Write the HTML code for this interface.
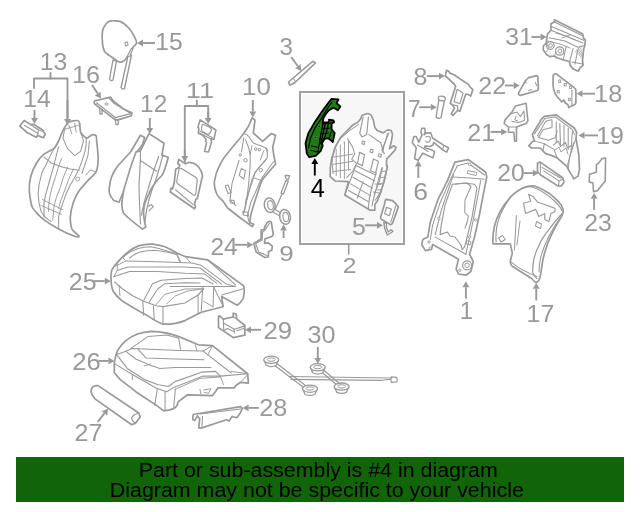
<!DOCTYPE html>
<html><head><meta charset="utf-8"><style>
html,body{margin:0;padding:0;background:#fff;width:640px;height:512px;overflow:hidden}
svg{display:block;font-family:"Liberation Sans",sans-serif;will-change:transform}
</style></head><body>
<svg width="640" height="512" viewBox="0 0 640 512">
<rect x="0" y="0" width="640" height="512" fill="#fff"/>
<rect x="299" y="91" width="106" height="154" fill="#a0a0a0"/>
<rect x="301" y="93" width="102" height="150" fill="#fff"/>
<rect x="302" y="94" width="100" height="148" fill="#f7f7f7"/>
<path d="M348.7,245 L348.7,254" fill="none" stroke="#999" stroke-width="1.5750000000000002" stroke-linejoin="round" stroke-linecap="round"/>
<path d="M113,60 L109.5,79 Q111,81.5 113,80 L116.5,61 Z" fill="#fff" stroke="#999" stroke-width="1.3650000000000002" stroke-linejoin="round" stroke-linecap="round" />
<path d="M128,56 L121,87.5 Q122.5,90 124.5,88.5 L131.5,55 Z" fill="#fff" stroke="#999" stroke-width="1.3650000000000002" stroke-linejoin="round" stroke-linecap="round" />
<path d="M110.30,20.90 C112.04,20.57 118.32,20.74 120.50,21.60 C122.68,22.46 127.37,26.52 129.00,28.30 C130.63,30.09 133.61,35.17 134.50,36.90 C135.39,38.63 136.68,42.00 136.60,43.10 C136.52,44.20 134.41,45.47 133.80,46.30 C133.19,47.13 132.14,49.02 131.40,50.20 C130.66,51.38 128.41,55.14 127.50,56.40 C126.59,57.66 124.60,60.36 123.60,61.00 C122.60,61.64 120.27,62.34 118.90,61.90 C117.54,61.46 113.55,58.39 111.90,57.20 C110.26,56.01 105.90,53.35 104.80,51.70 C103.70,50.05 102.77,45.52 102.50,43.10 C102.23,40.69 102.14,33.18 102.50,31.00 C102.86,28.82 104.69,25.58 105.60,24.40 C106.51,23.22 108.56,21.23 110.30,20.90Z" fill="#fff" stroke="#999" stroke-width="1.6949999999999998" stroke-linejoin="round" stroke-linecap="round" />
<path d="M131,49 L133.5,47 L130,56 L127,57Z" fill="#fff" stroke="#999" stroke-width="1.1550000000000002" stroke-linejoin="round" stroke-linecap="round" />
<path d="M125,42.5 L127.5,42 L128,45 L125.5,46Z" fill="#fff" stroke="#999" stroke-width="1.05" stroke-linejoin="round" stroke-linecap="round" />
<text transform="translate(155.20,49.55) scale(1.029,1.003)" font-size="24" fill="#999">15</text>
<path d="M155,43 L143.0,43.0" stroke="#999" stroke-width="1.9" fill="none"/>
<path d="M137,43 L143.0,39.6 L143.0,46.4Z" fill="#999"/>
<path d="M64.50,127.80 C65.24,126.63 67.58,122.73 68.90,122.00 C70.22,121.27 76.62,120.36 77.70,120.50 C78.78,120.64 79.41,122.23 79.70,123.40 C79.99,124.57 79.93,130.73 80.60,132.20 C81.27,133.67 85.23,137.86 86.40,138.10 C87.57,138.34 91.33,134.83 92.30,134.60 C93.27,134.37 95.66,135.16 96.10,135.80 C96.54,136.44 96.49,138.72 96.70,141.00 C96.91,143.28 98.26,155.52 98.20,158.60 C98.14,161.68 97.13,169.60 96.10,171.80 C95.07,174.00 89.60,178.70 87.90,180.60 C86.20,182.50 80.56,188.60 79.10,190.80 C77.64,193.00 74.18,199.96 73.30,202.60 C72.42,205.24 70.45,214.57 70.30,217.20 C70.15,219.83 70.92,226.99 71.80,228.90 C72.68,230.81 78.81,235.56 79.10,236.30 C79.39,237.04 76.75,237.04 74.70,236.30 C72.65,235.56 61.82,230.66 58.60,228.90 C55.38,227.14 45.14,220.89 42.50,218.70 C39.86,216.51 33.52,209.79 32.20,207.00 C30.88,204.21 29.44,193.88 29.30,190.80 C29.16,187.72 30.07,178.98 30.80,176.20 C31.53,173.42 35.28,165.20 36.60,163.00 C37.92,160.80 42.24,155.66 44.00,154.20 C45.76,152.74 52.74,149.72 54.20,148.40 C55.66,147.08 57.87,142.47 58.60,141.00 C59.33,139.53 60.91,135.02 61.50,133.70 C62.09,132.38 63.76,128.97 64.50,127.80Z" fill="#fff" stroke="#999" stroke-width="1.6949999999999998" stroke-linejoin="round" stroke-linecap="round" />
<path d="M44,157.1 Q49,161 51.3,163 Q60,167 70.3,168.9 L79.1,170.3" fill="none" stroke="#999" stroke-width="1.05" stroke-linejoin="round" stroke-linecap="round" />
<path d="M64.5,129.3 L63,138.1 L67.4,148.4 L74.7,155.7 L80.6,151.3 L83.5,141 L80.6,132.2" fill="none" stroke="#999" stroke-width="1.05" stroke-linejoin="round" stroke-linecap="round"/>
<path d="M68.9,124.9 L71.8,133.7" fill="none" stroke="#999" stroke-width="0.9450000000000001" stroke-linejoin="round" stroke-linecap="round"/>
<path d="M74.7,123.4 L76.2,132.2" fill="none" stroke="#999" stroke-width="0.9450000000000001" stroke-linejoin="round" stroke-linecap="round"/>
<path d="M64.5,129.3 L79.7,125" fill="none" stroke="#999" stroke-width="0.9450000000000001" stroke-linejoin="round" stroke-linecap="round"/>
<path d="M86.4,138.1 Q86.5,145 85,151.3 Q82.5,160 79.1,168.9 Q75,177 70.3,185 Q66,193 63,202.6 Q60,210 58.6,217.2 L58.6,228.9" fill="none" stroke="#999" stroke-width="1.05" stroke-linejoin="round" stroke-linecap="round" />
<path d="M89.4,141 L87.9,155.7 L82,173.3" fill="none" stroke="#999" stroke-width="1.05" stroke-linejoin="round" stroke-linecap="round"/>
<path d="M58.6,146.9 Q56,156 54.2,164.5 Q51,175 48.4,185 Q45.5,194 44,202.6 L44,217.2" fill="none" stroke="#999" stroke-width="1.05" stroke-linejoin="round" stroke-linecap="round" />
<path d="M61.5,158.6 Q58,167 55.7,176.2 Q52,186 49.8,196.7 Q48.5,204 48.4,211.4" fill="none" stroke="#999" stroke-width="0.9450000000000001" stroke-linejoin="round" stroke-linecap="round" />
<path d="M67.4,167.4 Q63,177 60.1,187.9 Q56,197 54.2,205.5 L52.7,220.1" fill="none" stroke="#999" stroke-width="0.9450000000000001" stroke-linejoin="round" stroke-linecap="round" />
<path d="M73.3,168.9 Q68,180 64.5,190.8 Q60.5,200 58.6,208.4" fill="none" stroke="#999" stroke-width="0.9450000000000001" stroke-linejoin="round" stroke-linecap="round" />
<path d="M42.5,199.6 L63,209.9" fill="none" stroke="#999" stroke-width="0.9450000000000001" stroke-linejoin="round" stroke-linecap="round"/>
<path d="M41,205.5 L61.5,214.3" fill="none" stroke="#999" stroke-width="0.9450000000000001" stroke-linejoin="round" stroke-linecap="round"/>
<path d="M58.6,141 Q50,155 46,165 Q42,171 41,176.2 Q38.5,185 38.1,193.8 Q38.5,203 41,211.4 Q45,218 51.3,221.6" fill="none" stroke="#999" stroke-width="1.05" stroke-linejoin="round" stroke-linecap="round" />
<ellipse cx="77.7" cy="179.1" rx="2" ry="2" fill="#fff" stroke="#999" stroke-width="0.9" transform="rotate(0 77.7 179.1)"/>
<path d="M96.1,171.8 L90,170 L86,175" fill="none" stroke="#999" stroke-width="0.9450000000000001" stroke-linejoin="round" stroke-linecap="round"/>
<text transform="translate(39.70,70.36) scale(1.031,0.976)" font-size="24" fill="#999">13</text>
<path d="M50.5,73 L50.5,78.5" fill="none" stroke="#999" stroke-width="1.8900000000000001" stroke-linejoin="round" stroke-linecap="round"/>
<path d="M34,88 L34,78.5 L67.5,78.5 L67.5,118" fill="none" stroke="#999" stroke-width="1.8900000000000001" stroke-linejoin="round" stroke-linecap="round"/>
<path d="M67.5,100 L67.5,119.0" stroke="#999" stroke-width="1.9" fill="none"/>
<path d="M67.5,125 L64.1,119.0 L70.9,119.0Z" fill="#999"/>
<path d="M24.2,120.5 L30.65,124.6 L33.6,124.3 L43,130.2 L43.55,131.6 L45.3,134.3 L43.25,137.8 L38,135.4 L36.2,137.2 L27.1,132.5 L19.8,126.1Z" fill="#fff" stroke="#999" stroke-width="1.6949999999999998" stroke-linejoin="round" stroke-linecap="round" />
<path d="M24.5,125.3 L38,133.5" fill="none" stroke="#999" stroke-width="1.05" stroke-linejoin="round" stroke-linecap="round"/>
<path d="M30.65,124.6 L38.5,130 L37.5,135" fill="none" stroke="#999" stroke-width="1.05" stroke-linejoin="round" stroke-linecap="round"/>
<path d="M33.6,127 L43,132" fill="none" stroke="#999" stroke-width="0.9450000000000001" stroke-linejoin="round" stroke-linecap="round"/>
<text transform="translate(23.20,106.90) scale(1.031,0.982)" font-size="24" fill="#999">14</text>
<path d="M34.5,110 L34.5,118.0" stroke="#999" stroke-width="1.9" fill="none"/>
<path d="M34.5,124 L31.1,118.0 L37.9,118.0Z" fill="#999"/>
<path d="M94.3,101 L110.4,97.1 L113.3,101 L124.1,109.3 L131.9,112.7 L131.4,115.7 L117.3,120.1 L114.3,119.1 L97.7,106.4 L94.3,103.5Z" fill="#fff" stroke="#999" stroke-width="1.6949999999999998" stroke-linejoin="round" stroke-linecap="round" />
<path d="M96.7,103 L115.3,117.6 L130.9,113.7" fill="none" stroke="#999" stroke-width="1.26" stroke-linejoin="round" stroke-linecap="round"/>
<path d="M109,98 L114.3,103.5 L130,113" fill="none" stroke="#999" stroke-width="1.26" stroke-linejoin="round" stroke-linecap="round"/>
<path d="M99.7,108.5 L100,114 L102,114 L102,110" fill="none" stroke="#999" stroke-width="1.26" stroke-linejoin="round" stroke-linecap="round"/>
<path d="M115.3,120 L116,124.5 L118.2,124.5 L118.5,120" fill="none" stroke="#999" stroke-width="1.26" stroke-linejoin="round" stroke-linecap="round"/>
<ellipse cx="106.5" cy="104" rx="1.6" ry="1.1" fill="#fff" stroke="#999" stroke-width="1" transform="rotate(0 106.5 104)"/>
<text transform="translate(71.91,83.25) scale(1.052,1.015)" font-size="24" fill="#999">16</text>
<path d="M92,85 L97.68879859490933,93.59640676564075" stroke="#999" stroke-width="1.9" fill="none"/>
<path d="M101,98.6 L94.8534290954391,95.47275422852546 L100.52416809437956,91.72005930275604Z" fill="#999"/>
<path d="M140.4,135.3 L144.7,137.5 L142.6,144.3 L137.2,151.8 Q130,175 126.5,185 Q122,195 119,202.3 L113.6,200.2 Q108,194 109.3,188 Q110,176 117.9,165.8 Q126,157 130.8,151.8 Z" fill="#fff" stroke="#999" stroke-width="1.6949999999999998" stroke-linejoin="round" stroke-linecap="round" />
<path d="M149,133.6 L164,143.3 L161.9,155.1 L168.3,157.2 Q165,170 161.9,175.5 Q157,180 154.4,184 Q150,190 148,195.9 Q144,204 143.7,210 Q143,216 145.8,227 L142.6,229.1 Q130,220 123.3,213 Q121,205 122.2,200.2 Q123,190 126.5,180.8 Q131,165 136.1,151.8 L140.4,150.8 L143.7,144.3 Z" fill="#fff" stroke="#999" stroke-width="1.6949999999999998" stroke-linejoin="round" stroke-linecap="round" />
<path d="M140.4,150.8 L140.4,160.4 L156.5,171.2" fill="none" stroke="#999" stroke-width="1.1550000000000002" stroke-linejoin="round" stroke-linecap="round"/>
<path d="M140.4,160.4 L139,185 L139.4,200.2 L140.4,223.8" fill="none" stroke="#999" stroke-width="1.1550000000000002" stroke-linejoin="round" stroke-linecap="round"/>
<path d="M158.7,156.5 Q152,175 148,189.4 Q143,205 141.5,215.2" fill="none" stroke="#999" stroke-width="1.1550000000000002" stroke-linejoin="round" stroke-linecap="round" />
<path d="M163,155 Q157,178 152,190 Q146,208 145,222" fill="none" stroke="#999" stroke-width="1.1550000000000002" stroke-linejoin="round" stroke-linecap="round" />
<path d="M148,206.6 L151.2,204.5 L153.3,206.6 L149,210.9" fill="none" stroke="#999" stroke-width="1.1550000000000002" stroke-linejoin="round" stroke-linecap="round"/>
<text transform="translate(140.12,111.90) scale(1.015,0.991)" font-size="24" fill="#999">12</text>
<path d="M149.8,118 L149.8,128.0" stroke="#999" stroke-width="1.9" fill="none"/>
<path d="M149.8,134 L146.4,128.0 L153.20000000000002,128.0Z" fill="#999"/>
<path d="M200.2,119.8 L215.9,130 L213.9,139.3 L211,138.8 L211.5,142.2 L208.5,152 L204.6,151.5 L206.6,142.2 L205.6,141.2 L206.1,139.3 L202.7,135.4 L198.3,133.4 L198.8,128 L197.8,127.6Z" fill="#fff" stroke="#999" stroke-width="1.5819999999999999" stroke-linejoin="round" stroke-linecap="round" />
<path d="M203.5,124.5 L210,127.5 Q212,129 211,131 L209.5,133.5 Q208.5,134.5 207,134 L202.5,131.5 Q201,130.5 201.5,128.5 L202,125.5 Q202.5,124 203.5,124.5 Z" fill="#fff" stroke="#999" stroke-width="1.1550000000000002" stroke-linejoin="round" stroke-linecap="round" />
<path d="M199.8,131 L212.4,137.8" fill="none" stroke="#999" stroke-width="1.05" stroke-linejoin="round" stroke-linecap="round"/>
<path d="M199.5,133 L211,139" fill="none" stroke="#999" stroke-width="1.05" stroke-linejoin="round" stroke-linecap="round"/>
<path d="M178.7,159.4 L185.5,163.8 L189.4,162.3 Q195,163 197.2,165.7 Q200.5,169 201.6,172.1 L202.6,176 L202.1,177.5 L197.3,198.6 L196,199 L194.5,203.9 L195.6,206.7 L194.5,208.8 L170.3,192 L171,188.1 L172.5,189 L174.3,182.3 L175.7,169.2 L179.2,167.2 L179.6,164.8 L177.7,163.8 Z" fill="#fff" stroke="#999" stroke-width="1.6949999999999998" stroke-linejoin="round" stroke-linecap="round" />
<path d="M181.5,168.5 L196,177.5 Q197.5,178.8 197.2,180.5 L195.8,193.5 Q195.3,195.8 193.5,195 L178,184 Q176.5,183 176.8,181 L178.8,170 Q179.5,167.5 181.5,168.5 Z" fill="none" stroke="#999" stroke-width="1.1550000000000002" stroke-linejoin="round" stroke-linecap="round" />
<path d="M175.5,189.8 L193.1,204.6" fill="none" stroke="#999" stroke-width="1.1550000000000002" stroke-linejoin="round" stroke-linecap="round"/>
<text transform="translate(185.81,97.90) scale(1.136,0.948)" font-size="24" fill="#999">11</text>
<path d="M196.8,100.5 L196.8,106" fill="none" stroke="#999" stroke-width="1.8900000000000001" stroke-linejoin="round" stroke-linecap="round"/>
<path d="M184.8,162 L184.8,106 L208.2,106 L208.2,118" fill="none" stroke="#999" stroke-width="1.8900000000000001" stroke-linejoin="round" stroke-linecap="round"/>
<path d="M184.8,150 L184.8,156.0" stroke="#999" stroke-width="1.9" fill="none"/>
<path d="M184.8,162 L181.4,156.0 L188.20000000000002,156.0Z" fill="#999"/>
<path d="M208.2,112 L208.2,118.0" stroke="#999" stroke-width="1.9" fill="none"/>
<path d="M208.2,124 L204.79999999999998,118.0 L211.6,118.0Z" fill="#999"/>
<path d="M252.1,117.9 L255,120.2 L253.3,133.1 L262.7,141.3 L271.3,133.5 L275.6,135.4 L272.7,147.1 L273.7,155 L275.6,164 L262.3,179.7 Q260,185 258.4,190.6 L253.75,204.7 L250.6,215.6 L249.8,222.7 L253.75,224.2 L252.2,226.6 Q240,218 227.6,208 Q225,204 222.9,201 Q217,196 215.9,191.6 Q213.5,185 214.7,179.9 Q216,172 219.4,165.9 Q223,158 228.7,151.8 Q235,144 240.4,137.8 Q245,132 248.6,126 Z" fill="#fff" stroke="#999" stroke-width="1.6949999999999998" stroke-linejoin="round" stroke-linecap="round" />
<path d="M244.35,133.8 Q247,134.5 249,136.7 Q251,140 253.1,142.6 Q256,144.5 260.2,145.5 L266,147.9 L267.8,150.8" fill="none" stroke="#999" stroke-width="1.05" stroke-linejoin="round" stroke-linecap="round" />
<path d="M243.8,137.9 L241.4,152" fill="none" stroke="#999" stroke-width="1.05" stroke-linejoin="round" stroke-linecap="round"/>
<path d="M239.1,160.2 L232,183.6 L230,200 L235.8,205.7" fill="none" stroke="#999" stroke-width="1.05" stroke-linejoin="round" stroke-linecap="round"/>
<path d="M245.5,139.7 Q249,147 250.2,154.3 L250.2,163.7 Q249.5,175 248.5,185 L246,205 L243,214" fill="none" stroke="#999" stroke-width="1.05" stroke-linejoin="round" stroke-linecap="round" />
<path d="M252,145.5 L250.2,154.3" fill="none" stroke="#999" stroke-width="0.9450000000000001" stroke-linejoin="round" stroke-linecap="round"/>
<path d="M266,148.5 Q268,153 267.2,157.8 Q264,162 260.2,166 Q256.5,170 254.3,174.25 Q252,179 250.8,183.6 L247,200" fill="none" stroke="#999" stroke-width="1.05" stroke-linejoin="round" stroke-linecap="round" />
<path d="M263.7,150.8 L260.2,160.2" fill="none" stroke="#999" stroke-width="0.9450000000000001" stroke-linejoin="round" stroke-linecap="round"/>
<path d="M273.3,161.7 L260.8,179.7 L256.9,189 L250.6,203 L247.5,215.6 L249,222" fill="none" stroke="#999" stroke-width="1.05" stroke-linejoin="round" stroke-linecap="round"/>
<path d="M266.25,159.4 L255.3,171.9 L251.4,184.4 L245.9,200 L244.5,212" fill="none" stroke="#999" stroke-width="1.05" stroke-linejoin="round" stroke-linecap="round"/>
<path d="M253.7,177.8 L260.2,180.1" fill="none" stroke="#999" stroke-width="0.9450000000000001" stroke-linejoin="round" stroke-linecap="round"/>
<path d="M239.1,175.4 L241.4,168.4 L245.5,170.7 L243.8,179Z" fill="none" stroke="#999" stroke-width="1.05" stroke-linejoin="round" stroke-linecap="round" />
<path d="M225.2,185.8 L228,185 L231.1,192.8 L228,193.5Z" fill="none" stroke="#999" stroke-width="1.05" stroke-linejoin="round" stroke-linecap="round" />
<path d="M229.9,200 L234,200.5 L234.5,203.5 L230.5,203Z" fill="none" stroke="#999" stroke-width="1.05" stroke-linejoin="round" stroke-linecap="round" />
<path d="M242.8,211.5 L248,212.5 L248.5,216 L243.5,215Z" fill="none" stroke="#999" stroke-width="1.05" stroke-linejoin="round" stroke-linecap="round" />
<ellipse cx="240.2" cy="154.9" rx="1.2" ry="1.2" fill="#fff" stroke="#999" stroke-width="1" transform="rotate(0 240.2 154.9)"/>
<ellipse cx="245.5" cy="160.2" rx="1.7" ry="1.7" fill="#fff" stroke="#999" stroke-width="1" transform="rotate(0 245.5 160.2)"/>
<ellipse cx="255.7" cy="149" rx="1.3" ry="1.3" fill="#fff" stroke="#999" stroke-width="1" transform="rotate(0 255.7 149)"/>
<ellipse cx="259.4" cy="149.6" rx="1.3" ry="1.3" fill="#fff" stroke="#999" stroke-width="1" transform="rotate(0 259.4 149.6)"/>
<ellipse cx="260.8" cy="170.15" rx="1.7" ry="1.7" fill="#fff" stroke="#999" stroke-width="1" transform="rotate(0 260.8 170.15)"/>
<text transform="translate(242.12,94.51) scale(1.075,0.968)" font-size="24" fill="#999">10</text>
<path d="M252.8,100 L252.8,111.5" stroke="#999" stroke-width="1.9" fill="none"/>
<path d="M252.8,117.5 L249.4,111.5 L256.2,111.5Z" fill="#999"/>
<path d="M285.8,180.6 L288.2,181.2 L283.5,194 L281,193.2 Z" fill="#fff" stroke="#999" stroke-width="1.26" stroke-linejoin="round" stroke-linecap="round" />
<path d="M282.2,193.5 L275.6,208.7" fill="none" stroke="#999" stroke-width="1.26" stroke-linejoin="round" stroke-linecap="round"/>
<path d="M285.2,175.3 L289.7,175.6 L288.3,179.4 L285.9,178.8Z" fill="#fff" stroke="#999" stroke-width="1.26" stroke-linejoin="round" stroke-linecap="round" />
<ellipse cx="269.7" cy="205.2" rx="5.4" ry="7.3" fill="#fff" stroke="#999" stroke-width="1.5" transform="rotate(-10 269.7 205.2)"/>
<ellipse cx="270.5" cy="205.2" rx="2.8" ry="4.6" fill="#fff" stroke="#999" stroke-width="1.1" transform="rotate(-10 270.5 205.2)"/>
<path d="M274,209 L281,213" fill="none" stroke="#999" stroke-width="1.1550000000000002" stroke-linejoin="round" stroke-linecap="round"/>
<path d="M273,212 L280,216" fill="none" stroke="#999" stroke-width="1.1550000000000002" stroke-linejoin="round" stroke-linecap="round"/>
<ellipse cx="285" cy="216.9" rx="5.3" ry="7.5" fill="#fff" stroke="#999" stroke-width="1.5" transform="rotate(-10 285 216.9)"/>
<ellipse cx="285.8" cy="216.9" rx="2.8" ry="4.6" fill="#fff" stroke="#999" stroke-width="1.1" transform="rotate(-10 285.8 216.9)"/>
<text transform="translate(279.35,260.97) scale(1.082,0.918)" font-size="24" fill="#999">9</text>
<path d="M283.6,238 L283.6,230.5" stroke="#999" stroke-width="1.9" fill="none"/>
<path d="M283.6,224.5 L287.0,230.5 L280.20000000000005,230.5Z" fill="#999"/>
<path d="M269.4,221.3 L271.3,222.3 L273.3,234.5 L271.8,236.5 L265,238.9 L264.5,243.3 L268.4,242.8 L272.3,246.2 L271.8,250.1 L268.4,252.1 L268.4,257 L264.5,257.4 L256.2,252.1 L253.8,243.3 L261.1,238.9 L261.1,230.1 L264,229.6 L265,226.2 L267.4,222.3Z" fill="#fff" stroke="#999" stroke-width="1.6949999999999998" stroke-linejoin="round" stroke-linecap="round" />
<path d="M269.4,223.5 L264.5,230.6 L262.6,232 L262.1,239.9 L255.7,243.8 L258.7,252.1 L267,255.5" fill="none" stroke="#999" stroke-width="1.1550000000000002" stroke-linejoin="round" stroke-linecap="round"/>
<text transform="translate(210.43,254.50) scale(1.018,0.973)" font-size="24" fill="#999">24</text>
<path d="M234.7,244.8 L247.2,244.8" stroke="#999" stroke-width="1.9" fill="none"/>
<path d="M253.2,244.8 L247.2,248.20000000000002 L247.2,241.4Z" fill="#999"/>
<path d="M312.7,61.3 L315.5,62.9 L294.75,82.8 L289.7,85.2 L288.5,82 Z" fill="#fff" stroke="#999" stroke-width="1.5819999999999999" stroke-linejoin="round" stroke-linecap="round" />
<path d="M293.5,78.5 L295.5,81.5" fill="none" stroke="#999" stroke-width="1.05" stroke-linejoin="round" stroke-linecap="round"/>
<text transform="translate(279.60,55.15) scale(1.004,0.988)" font-size="24" fill="#999">3</text>
<path d="M291.2,57 L297.88328128082765,66.23865353526176" stroke="#999" stroke-width="1.9" fill="none"/>
<path d="M301.4,71.1 L295.1285182841427,68.23146080945942 L300.6380442775126,64.2458462610641Z" fill="#999"/>
<path d="M331.6,98.8 L338.5,99.4 L336.6,103.2 L340.4,106.4 L337.9,110.2 L333.5,107.7 L329,110.2 L325.8,114 L323.3,118.5 L322.7,122.3 L328.4,122.3 L329.6,119.7 L333.5,120.4 L334.1,122.3 L331.6,123.6 L331.6,129.3 L334.7,133.1 L332.8,142 L328.4,138.1 L324.6,138.8 L322,143.2 L322.7,145.8 L320.8,150.8 L315.7,155.9 L309.3,157.2 L306.8,153.4 L305.5,143.2 L308.4,133.1 L315.2,121.4 L323,110 L329.2,101.8Z" fill="#1f7a14" stroke="#000" stroke-width="1.8" stroke-linejoin="round" stroke-linecap="round" />
<path d="M308.5,148 L310.5,138 L315,128 L321,119 L327,109 L332,102" fill="none" stroke="#000" stroke-width="1.1" stroke-linejoin="round" stroke-linecap="round"/>
<path d="M323.2,122.9 L320.5,136 L318,152" fill="none" stroke="#000" stroke-width="1.2" stroke-linejoin="round" stroke-linecap="round"/>
<path d="M325.5,122.5 L323,134 L320.6,144" fill="none" stroke="#000" stroke-width="1.2" stroke-linejoin="round" stroke-linecap="round"/>
<path d="M328.5,122.5 L326.5,132 L324,140" fill="none" stroke="#000" stroke-width="1.2" stroke-linejoin="round" stroke-linecap="round"/>
<path d="M322.5,124 L331,123" fill="none" stroke="#000" stroke-width="1.1" stroke-linejoin="round" stroke-linecap="round"/>
<path d="M321.5,129 L330,128" fill="none" stroke="#000" stroke-width="1.1" stroke-linejoin="round" stroke-linecap="round"/>
<path d="M320.5,134 L328.5,133" fill="none" stroke="#000" stroke-width="1.1" stroke-linejoin="round" stroke-linecap="round"/>
<path d="M319.5,139 L327,138.5" fill="none" stroke="#000" stroke-width="1.1" stroke-linejoin="round" stroke-linecap="round"/>
<path d="M311.4,146 L318.5,147.5" fill="none" stroke="#000" stroke-width="1.1" stroke-linejoin="round" stroke-linecap="round"/>
<path d="M310.9,150.2 L317.5,152" fill="none" stroke="#000" stroke-width="1.1" stroke-linejoin="round" stroke-linecap="round"/>
<path d="M331.1,131.7 L329,139.5" fill="none" stroke="#000" stroke-width="1.1" stroke-linejoin="round" stroke-linecap="round"/>
<path d="M328.5,119.4 L333.8,121.2" fill="none" stroke="#000" stroke-width="1.1" stroke-linejoin="round" stroke-linecap="round"/>
<ellipse cx="319.3" cy="126.4" rx="1.1" ry="1.1" fill="#000" stroke="#999" stroke-width="0.6" transform="rotate(0 319.3 126.4)"/>
<ellipse cx="315.8" cy="137.4" rx="1.1" ry="1.1" fill="#000" stroke="#999" stroke-width="0.6" transform="rotate(0 315.8 137.4)"/>
<text transform="translate(310.77,197.20) scale(1.053,1.036)" font-size="24" fill="#000">4</text>
<path d="M314.8,175.5 L314.8,164.0" stroke="#000" stroke-width="1.9" fill="none"/>
<path d="M314.8,158 L318.2,164.0 L311.40000000000003,164.0Z" fill="#000"/>
<path d="M362,115.3 L367.9,113.5 L370.8,114.7 L373.1,119.4 L374.9,127.6 L377.2,130.5 L383.1,132.9 L387.8,129.9 L391.3,130.5 L392.5,134.6 L391.3,141.7 L389.5,148.7 L393.7,145.8 L396,147.5 L394.8,150.4 L386.6,159.2 L386.5,165.6 L387.3,167.1 L383.6,182.4 L380.7,192.7 L377,201.5 L374.8,204.4 L374.8,210.2 L370.4,210.2 L369,209.5 L344.8,194.9 L348.5,181.7 L335.3,181 L330.2,176.6 L330.3,168 L331.5,159.2 L335,147.5 L340.9,137 L346.8,131.1 L352.6,125.2 L357.9,122.3 L360.8,118.8Z" fill="#fff" stroke="#999" stroke-width="1.6949999999999998" stroke-linejoin="round" stroke-linecap="round" />
<path d="M363.2,117 L359.7,133.4 L362,137 L366.7,134.6 L368.4,117" fill="none" stroke="#999" stroke-width="1.1550000000000002" stroke-linejoin="round" stroke-linecap="round"/>
<path d="M369,134.6 L380.8,142.8 L383,150" fill="none" stroke="#999" stroke-width="1.1550000000000002" stroke-linejoin="round" stroke-linecap="round"/>
<path d="M389,132.9 L381.9,149.9 L384.3,153.4" fill="none" stroke="#999" stroke-width="1.1550000000000002" stroke-linejoin="round" stroke-linecap="round"/>
<path d="M362.5,141 L365,141.8 L364.2,144.5 L361.8,143.8Z" fill="none" stroke="#999" stroke-width="1.05" stroke-linejoin="round" stroke-linecap="round" />
<path d="M370.8,149.2 L373.3,150 L372.5,152.7 L370,152Z" fill="none" stroke="#999" stroke-width="1.05" stroke-linejoin="round" stroke-linecap="round" />
<path d="M379,153.8 L381.5,154.6 L380.7,157.3 L378.2,156.5Z" fill="none" stroke="#999" stroke-width="1.05" stroke-linejoin="round" stroke-linecap="round" />
<path d="M359.5,152.4 L364.5,154.6 L362.4,165.6 L357.5,163.5Z" fill="none" stroke="#999" stroke-width="1.1550000000000002" stroke-linejoin="round" stroke-linecap="round" />
<path d="M373.4,159 L378.5,161.2 L375.6,172.8 L370.5,170.8Z" fill="none" stroke="#999" stroke-width="1.1550000000000002" stroke-linejoin="round" stroke-linecap="round" />
<path d="M355.8,165.6 L375.6,175.1" fill="none" stroke="#999" stroke-width="1.1550000000000002" stroke-linejoin="round" stroke-linecap="round"/>
<path d="M355.8,165.6 L344.8,194.9" fill="none" stroke="#999" stroke-width="1.1550000000000002" stroke-linejoin="round" stroke-linecap="round"/>
<path d="M355,170.7 L374.8,181" fill="none" stroke="#999" stroke-width="1.05" stroke-linejoin="round" stroke-linecap="round"/>
<path d="M352.9,177.3 L372.6,188.3" fill="none" stroke="#999" stroke-width="1.05" stroke-linejoin="round" stroke-linecap="round"/>
<path d="M350.7,183.9 L370.4,195.6" fill="none" stroke="#999" stroke-width="1.05" stroke-linejoin="round" stroke-linecap="round"/>
<path d="M348.5,190.5 L368.2,201.5" fill="none" stroke="#999" stroke-width="1.05" stroke-linejoin="round" stroke-linecap="round"/>
<path d="M363.1,181.7 L357.3,198.5" fill="none" stroke="#999" stroke-width="1.05" stroke-linejoin="round" stroke-linecap="round"/>
<path d="M376.3,172.9 Q374,180 371.9,186.8 Q369,198 368.2,208.8" fill="none" stroke="#999" stroke-width="1.1550000000000002" stroke-linejoin="round" stroke-linecap="round" />
<path d="M382,168 Q378,180 376,190 Q373,200 372,206" fill="none" stroke="#999" stroke-width="1.05" stroke-linejoin="round" stroke-linecap="round" />
<path d="M375,184 L381,184.5" fill="none" stroke="#999" stroke-width="0.9450000000000001" stroke-linejoin="round" stroke-linecap="round"/>
<path d="M373.5,192 L379,193" fill="none" stroke="#999" stroke-width="0.9450000000000001" stroke-linejoin="round" stroke-linecap="round"/>
<path d="M358.8,124.4 Q349,130 340.3,138.7 Q336,144 334.2,151 Q332,157 332.1,163.3 L333.1,173.6" fill="none" stroke="#999" stroke-width="1.05" stroke-linejoin="round" stroke-linecap="round" />
<path d="M347.5,138.7 L352.6,146.9 L354.7,154.1 L351.6,159.2 L356.7,163.3 L352.6,171.5 L346.5,177.7" fill="none" stroke="#999" stroke-width="1.05" stroke-linejoin="round" stroke-linecap="round"/>
<path d="M336.2,149 L336.2,175.6" fill="none" stroke="#999" stroke-width="0.9450000000000001" stroke-linejoin="round" stroke-linecap="round"/>
<path d="M340.3,144.9 L340.3,177.7" fill="none" stroke="#999" stroke-width="0.9450000000000001" stroke-linejoin="round" stroke-linecap="round"/>
<path d="M344.4,141.8 L344.4,178.5" fill="none" stroke="#999" stroke-width="0.9450000000000001" stroke-linejoin="round" stroke-linecap="round"/>
<path d="M348.5,141 L348.5,170" fill="none" stroke="#999" stroke-width="0.9450000000000001" stroke-linejoin="round" stroke-linecap="round"/>
<path d="M333.1,157.2 L352.6,154.1" fill="none" stroke="#999" stroke-width="0.9450000000000001" stroke-linejoin="round" stroke-linecap="round"/>
<path d="M333.1,164.4 L352.6,161.3" fill="none" stroke="#999" stroke-width="0.9450000000000001" stroke-linejoin="round" stroke-linecap="round"/>
<path d="M333.1,171.5 L350.6,169.5" fill="none" stroke="#999" stroke-width="0.9450000000000001" stroke-linejoin="round" stroke-linecap="round"/>
<path d="M387.5,165.4 L384.4,181.8 L379.3,194.1 L375.2,200.3" fill="none" stroke="#999" stroke-width="1.05" stroke-linejoin="round" stroke-linecap="round"/>
<path d="M382.4,167.4 L379.3,181.8 L374.2,194.1" fill="none" stroke="#999" stroke-width="1.05" stroke-linejoin="round" stroke-linecap="round"/>
<path d="M381.5,171.5 L386.5,171" fill="none" stroke="#999" stroke-width="0.9450000000000001" stroke-linejoin="round" stroke-linecap="round"/>
<path d="M380.5,177.7 L385.5,177" fill="none" stroke="#999" stroke-width="0.9450000000000001" stroke-linejoin="round" stroke-linecap="round"/>
<path d="M379.3,183.8 L383.5,183" fill="none" stroke="#999" stroke-width="0.9450000000000001" stroke-linejoin="round" stroke-linecap="round"/>
<path d="M377.5,190 L381.5,189.5" fill="none" stroke="#999" stroke-width="0.9450000000000001" stroke-linejoin="round" stroke-linecap="round"/>
<path d="M387.5,133.6 L382.4,152" fill="none" stroke="#999" stroke-width="1.05" stroke-linejoin="round" stroke-linecap="round"/>
<text transform="translate(342.82,273.10) scale(1.027,0.955)" font-size="24" fill="#999">2</text>
<path d="M383.8,222.3 L384.7,228.4 L387.3,235 L393,231.5 L391.3,229.7 L388.2,232 L386.4,227.5 L386.4,223.1Z" fill="#fff" stroke="#999" stroke-width="1.3650000000000002" stroke-linejoin="round" stroke-linecap="round" />
<path d="M386,199.4 L392.6,200.7 L396.1,204.2 L398.3,206.9 L392.6,223.1 Q391.5,224.8 390.4,224.5 L381.6,219.6 Q380.3,218.5 380.7,217 L384.7,203.4 Q385,199.8 386,199.4 Z" fill="#fff" stroke="#999" stroke-width="1.6949999999999998" stroke-linejoin="round" stroke-linecap="round" />
<path d="M386.4,207.3 L391.3,209.1 L389.5,215.7 L384.7,213.9Z" fill="none" stroke="#999" stroke-width="1.1550000000000002" stroke-linejoin="round" stroke-linecap="round" />
<path d="M395.7,206 L390.8,222.3" fill="none" stroke="#999" stroke-width="1.05" stroke-linejoin="round" stroke-linecap="round"/>
<text transform="translate(351.96,234.66) scale(1.040,0.979)" font-size="24" fill="#999">5</text>
<path d="M365,225.3 L377.0,225.3" stroke="#999" stroke-width="1.9" fill="none"/>
<path d="M383,225.3 L377.0,228.70000000000002 L377.0,221.9Z" fill="#999"/>
<path d="M446.5,70.4 L449.1,71.5 L449.7,73.1 L454,74.7 L469,84.9 L469.6,86.5 L472.8,89.7 L470.6,96.2 L468.5,94.6 L465.8,94 L459.9,111.2 L457.7,110.2 L452.9,115.5 L451.3,113.9 L454.5,108 L452.4,104.8 L450.2,103.2 L455.6,86.5 L454,83.8 L445.4,75.8Z" fill="#fff" stroke="#999" stroke-width="1.6949999999999998" stroke-linejoin="round" stroke-linecap="round" />
<path d="M457.2,89.2 L463.1,93 L459.9,103.7 L454,101.6Z" fill="none" stroke="#999" stroke-width="1.1550000000000002" stroke-linejoin="round" stroke-linecap="round" />
<path d="M452.4,104.8 L457.7,105.9 L457.7,110.2" fill="none" stroke="#999" stroke-width="1.1550000000000002" stroke-linejoin="round" stroke-linecap="round"/>
<text transform="translate(413.56,84.66) scale(1.040,0.965)" font-size="24" fill="#999">8</text>
<path d="M426.9,76.1 L439.0,76.1" stroke="#999" stroke-width="1.9" fill="none"/>
<path d="M445,76.1 L439.0,79.5 L439.0,72.69999999999999Z" fill="#999"/>
<path d="M439,99.5 L436.1,117 Q438.5,119.5 441,117.5 L444.5,100.5 Z" fill="#fff" stroke="#999" stroke-width="1.3650000000000002" stroke-linejoin="round" stroke-linecap="round" />
<ellipse cx="441.8" cy="98.5" rx="3.6" ry="2.3" fill="#fff" stroke="#999" stroke-width="1.3" transform="rotate(10 441.8 98.5)"/>
<text transform="translate(408.11,116.50) scale(0.955,1.030)" font-size="24" fill="#999">7</text>
<path d="M419.2,107.2 L430.8,107.2" stroke="#999" stroke-width="1.9" fill="none"/>
<path d="M436.8,107.2 L430.8,110.60000000000001 L430.8,103.8Z" fill="#999"/>
<path d="M421.7,128.3 L424.8,128.3 L425.2,132.2 L424,134.9 L426.75,132.9 L430.7,132.9 L431.8,135.7 L432.5,138 L443.9,145.4 L448.6,147.8 L446.7,152.1 L442.4,149.7 L433.8,142.3 L433,145 L430,146.5 L425,146 L424.4,147.8 L431.4,149.7 L434.6,151.7 L433,157.9 L422.8,153.25 L418.2,160.3 L414.6,158.7 L416.2,147.8 L412.3,142.7 L413.9,136.5 L416.2,136.5 L418.9,142.3 L421.5,136 L422.1,134.9 L420.9,132.2Z" fill="#fff" stroke="#999" stroke-width="1.5819999999999999" stroke-linejoin="round" stroke-linecap="round" />
<path d="M426,137 Q428,135.5 430,137 Q431,140 429,142 Q427,143 425.5,141" fill="none" stroke="#999" stroke-width="1.1550000000000002" stroke-linejoin="round" stroke-linecap="round" />
<path d="M417.5,145 L428,151.5" fill="none" stroke="#999" stroke-width="1.05" stroke-linejoin="round" stroke-linecap="round"/>
<path d="M442.4,149.7 L443.9,145.4" fill="none" stroke="#999" stroke-width="1.05" stroke-linejoin="round" stroke-linecap="round"/>
<text transform="translate(413.31,199.75) scale(1.109,1.006)" font-size="24" fill="#999">6</text>
<path d="M418.3,178 L418.3,166.5" stroke="#999" stroke-width="1.9" fill="none"/>
<path d="M418.3,160.5 L421.7,166.5 L414.90000000000003,166.5Z" fill="#999"/>
<path d="M454.9,162.1 L468.4,159.7 L485.6,172 L486.8,176.9 L483.1,195.3 L479.4,215 L474.5,237.1 L469.6,254.3 L473.3,261.7 L470.8,271.5 L465.9,275.2 L458.5,274 L456.1,269 L458.5,259.2 L432.7,244.5 L431.5,249.4 L425.4,250.6 L421.7,244.5 L422.9,239.5 L427.8,237.1 L430.3,222.3 L437.7,200.2 L447.5,180.6Z" fill="#fff" stroke="#999" stroke-width="1.6949999999999998" stroke-linejoin="round" stroke-linecap="round" />
<path d="M457.3,165.8 L450,180.6 L440.1,202.7 L432.7,224.8 L430.3,239.5" fill="none" stroke="#999" stroke-width="1.05" stroke-linejoin="round" stroke-linecap="round"/>
<path d="M453.6,174.4 L441.3,210 L435.2,234.6" fill="none" stroke="#999" stroke-width="1.05" stroke-linejoin="round" stroke-linecap="round"/>
<path d="M457.3,165.8 L468,163 L484.5,175" fill="none" stroke="#999" stroke-width="1.05" stroke-linejoin="round" stroke-linecap="round"/>
<path d="M452.4,176.9 L470,178 L484.3,179.3" fill="none" stroke="#999" stroke-width="1.05" stroke-linejoin="round" stroke-linecap="round"/>
<path d="M452.4,184.3 L464.7,183 L474.5,184.3 L477,188 L472,217.4 L464.7,246.9 L462.2,249.4" fill="none" stroke="#999" stroke-width="1.1550000000000002" stroke-linejoin="round" stroke-linecap="round"/>
<path d="M452.4,184.3 L445,205.1 L441.3,224.8 L440.1,234.6 L447.5,232 L450,236 L455,237 L461,245 L462.2,249.4" fill="none" stroke="#999" stroke-width="1.1550000000000002" stroke-linejoin="round" stroke-linecap="round"/>
<path d="M454.9,184.3 L467,183 L471,186.5 L465,200 L464.7,212.5 L468.4,216.2 L467.1,222.3 L465,228" fill="none" stroke="#999" stroke-width="1.05" stroke-linejoin="round" stroke-linecap="round"/>
<path d="M480.7,180.6 L473.3,219.9 L465.9,254.3" fill="none" stroke="#999" stroke-width="1.05" stroke-linejoin="round" stroke-linecap="round"/>
<path d="M435.2,237.1 L462,252 L465.9,254.3" fill="none" stroke="#999" stroke-width="1.05" stroke-linejoin="round" stroke-linecap="round"/>
<ellipse cx="467.1" cy="265.3" rx="4.5" ry="4.5" fill="#fff" stroke="#999" stroke-width="1.2" transform="rotate(0 467.1 265.3)"/>
<ellipse cx="467.1" cy="265.3" rx="2.2" ry="2.2" fill="#fff" stroke="#999" stroke-width="1" transform="rotate(0 467.1 265.3)"/>
<ellipse cx="438.9" cy="218.7" rx="1.2" ry="1.2" fill="#fff" stroke="#999" stroke-width="0.9" transform="rotate(0 438.9 218.7)"/>
<ellipse cx="475.7" cy="219.9" rx="1.2" ry="1.2" fill="#fff" stroke="#999" stroke-width="0.9" transform="rotate(0 475.7 219.9)"/>
<ellipse cx="469.6" cy="237.1" rx="1.2" ry="1.2" fill="#fff" stroke="#999" stroke-width="0.9" transform="rotate(0 469.6 237.1)"/>
<ellipse cx="429" cy="242" rx="1.2" ry="1.2" fill="#fff" stroke="#999" stroke-width="0.9" transform="rotate(0 429 242)"/>
<ellipse cx="430.3" cy="248.1" rx="1.2" ry="1.2" fill="#fff" stroke="#999" stroke-width="0.9" transform="rotate(0 430.3 248.1)"/>
<ellipse cx="459.8" cy="270.2" rx="1.2" ry="1.2" fill="#fff" stroke="#999" stroke-width="0.9" transform="rotate(0 459.8 270.2)"/>
<ellipse cx="469.6" cy="164.6" rx="1.2" ry="1.2" fill="#fff" stroke="#999" stroke-width="0.9" transform="rotate(0 469.6 164.6)"/>
<path d="M467.1,240.8 L470.8,241.5 L470.3,244.8 L466.6,244Z" fill="none" stroke="#999" stroke-width="0.9450000000000001" stroke-linejoin="round" stroke-linecap="round" />
<path d="M468.4,170.7 L477,172.5 L476,175.5 L467.5,173.5Z" fill="none" stroke="#999" stroke-width="0.9450000000000001" stroke-linejoin="round" stroke-linecap="round" />
<text transform="translate(459.85,318.75) scale(1.000,1.000)" font-size="24" fill="#999">1</text>
<path d="M465.9,298.5 L465.9,287.3" stroke="#999" stroke-width="1.9" fill="none"/>
<path d="M465.9,281.3 L469.29999999999995,287.3 L462.5,287.3Z" fill="#999"/>
<path d="M554.4,19.7 L582.5,33.7 L583.7,38.4 L585.4,40.2 L584.8,45.4 L583.7,49 L582.5,60.7 L583.1,65.4 L580.2,67.7 L578.4,71.2 L573.1,68.9 L570.2,65.4 L569.6,61.8 L556.7,57.7 L554.4,56 L549.7,56.6 L546.8,54.8 L543.3,50.1 L543.3,46 L546.2,43.1 L547.4,34.3 L550.9,30.2 L550.9,23.8 L554.4,22Z" fill="#fff" stroke="#999" stroke-width="1.6949999999999998" stroke-linejoin="round" stroke-linecap="round" />
<path d="M554.4,22 L583.1,36.1" fill="none" stroke="#999" stroke-width="1.1550000000000002" stroke-linejoin="round" stroke-linecap="round"/>
<path d="M552,26.7 L583.7,40.2" fill="none" stroke="#999" stroke-width="1.1550000000000002" stroke-linejoin="round" stroke-linecap="round"/>
<path d="M550.9,30.2 L583,43" fill="none" stroke="#999" stroke-width="1.1550000000000002" stroke-linejoin="round" stroke-linecap="round"/>
<path d="M549.1,37.8 L565,41 L577.8,47.2 L584.8,45.4" fill="none" stroke="#999" stroke-width="1.05" stroke-linejoin="round" stroke-linecap="round"/>
<path d="M547,41 L560,44 L570,48" fill="none" stroke="#999" stroke-width="0.9450000000000001" stroke-linejoin="round" stroke-linecap="round"/>
<ellipse cx="550.3" cy="45.5" rx="3.8" ry="3.8" fill="#fff" stroke="#999" stroke-width="1.2" transform="rotate(0 550.3 45.5)"/>
<ellipse cx="550.6" cy="45.5" rx="1.8" ry="1.8" fill="#fff" stroke="#999" stroke-width="1" transform="rotate(0 550.6 45.5)"/>
<ellipse cx="559.7" cy="51" rx="4.2" ry="4.2" fill="#fff" stroke="#999" stroke-width="1.2" transform="rotate(0 559.7 51)"/>
<ellipse cx="560" cy="51" rx="2" ry="2" fill="#fff" stroke="#999" stroke-width="1" transform="rotate(0 560 51)"/>
<path d="M566.1,46.5 L563.2,60.1" fill="none" stroke="#999" stroke-width="1.05" stroke-linejoin="round" stroke-linecap="round"/>
<path d="M573.1,48.4 L569.6,61.8" fill="none" stroke="#999" stroke-width="1.05" stroke-linejoin="round" stroke-linecap="round"/>
<path d="M578,49 L575,64" fill="none" stroke="#999" stroke-width="1.05" stroke-linejoin="round" stroke-linecap="round"/>
<path d="M575.5,52.0 L581.0,46.0" fill="none" stroke="#999" stroke-width="0.8400000000000001" stroke-linejoin="round" stroke-linecap="round"/>
<path d="M576.8,53.2 L581.3,47.9" fill="none" stroke="#999" stroke-width="0.8400000000000001" stroke-linejoin="round" stroke-linecap="round"/>
<path d="M578.1,54.4 L581.6,49.8" fill="none" stroke="#999" stroke-width="0.8400000000000001" stroke-linejoin="round" stroke-linecap="round"/>
<path d="M579.4,55.6 L581.9,51.7" fill="none" stroke="#999" stroke-width="0.8400000000000001" stroke-linejoin="round" stroke-linecap="round"/>
<path d="M580.7,56.8 L582.2,53.6" fill="none" stroke="#999" stroke-width="0.8400000000000001" stroke-linejoin="round" stroke-linecap="round"/>
<path d="M582.0,58.0 L582.5,55.5" fill="none" stroke="#999" stroke-width="0.8400000000000001" stroke-linejoin="round" stroke-linecap="round"/>
<path d="M572,62 L582.5,64" fill="none" stroke="#999" stroke-width="1.05" stroke-linejoin="round" stroke-linecap="round"/>
<path d="M546.2,43.1 L549,48 L546,52" fill="none" stroke="#999" stroke-width="0.9450000000000001" stroke-linejoin="round" stroke-linecap="round"/>
<path d="M554.4,56 L556,52" fill="none" stroke="#999" stroke-width="0.9450000000000001" stroke-linejoin="round" stroke-linecap="round"/>
<path d="M556,33 L566,36 L575,40" fill="none" stroke="#999" stroke-width="0.9450000000000001" stroke-linejoin="round" stroke-linecap="round"/>
<path d="M562,38 L570,35" fill="none" stroke="#999" stroke-width="0.9450000000000001" stroke-linejoin="round" stroke-linecap="round"/>
<text transform="translate(505.27,44.56) scale(1.029,0.965)" font-size="24" fill="#999">31</text>
<path d="M531.5,37 L540.5,37.0" stroke="#999" stroke-width="1.9" fill="none"/>
<path d="M546.5,37 L540.5,40.4 L540.5,33.6Z" fill="#999"/>
<path d="M519.1,94.9 Q518,93.5 518.6,92.9 L524.6,82.2 Q526.5,79 528.7,77.6 L536.8,75.6 Q537.8,75.8 537.9,77.1 L538.4,89.3 Q538,90.5 536.8,90.8 L520.6,95.4 Z" fill="#fff" stroke="#999" stroke-width="1.6949999999999998" stroke-linejoin="round" stroke-linecap="round" />
<path d="M524.5,81 L526.5,83" fill="none" stroke="#999" stroke-width="1.05" stroke-linejoin="round" stroke-linecap="round"/>
<path d="M535.5,82.5 L536.5,85.5" fill="none" stroke="#999" stroke-width="1.05" stroke-linejoin="round" stroke-linecap="round"/>
<path d="M528.5,90.5 L531.5,89.5" fill="none" stroke="#999" stroke-width="1.05" stroke-linejoin="round" stroke-linecap="round"/>
<text transform="translate(478.30,94.40) scale(1.043,0.973)" font-size="24" fill="#999">22</text>
<path d="M504.9,85.5 L513.7,85.5" stroke="#999" stroke-width="1.9" fill="none"/>
<path d="M519.7,85.5 L513.7,88.9 L513.7,82.1Z" fill="#999"/>
<path d="M553.6,74.6 Q555,73.5 556.6,74.1 L573.9,87.3 Q575.8,88.8 575.9,90.3 L575.9,102.5 Q575.5,104.5 573.9,105 L570.4,106.6 L568.8,107.6 L567.8,104.5 L565.3,103 L563.8,100 L561.7,102 L559.7,99.5 L557.7,97.4 Q555.5,95 554.6,92.3 Q553.3,89 553.1,85.2 L553.1,76.1 Z" fill="#fff" stroke="#999" stroke-width="1.6949999999999998" stroke-linejoin="round" stroke-linecap="round" />
<path d="M571.9,90.3 L571.9,105" fill="none" stroke="#999" stroke-width="1.05" stroke-linejoin="round" stroke-linecap="round"/>
<rect x="558.7" y="80.0" width="2" height="2.4" fill="none" stroke="#999" stroke-width="0.9"/>
<rect x="564.3" y="83.5" width="2" height="2.4" fill="none" stroke="#999" stroke-width="0.9"/>
<rect x="569.4" y="86.1" width="2" height="2.4" fill="none" stroke="#999" stroke-width="0.9"/>
<rect x="557.2" y="90.6" width="2" height="2.4" fill="none" stroke="#999" stroke-width="0.9"/>
<rect x="568.3" y="98.3" width="2" height="2.4" fill="none" stroke="#999" stroke-width="0.9"/>
<text transform="translate(594.05,102.35) scale(1.056,1.006)" font-size="24" fill="#999">18</text>
<path d="M595,93.7 L582.5,93.7" stroke="#999" stroke-width="1.9" fill="none"/>
<path d="M576.5,93.7 L582.5,90.3 L582.5,97.10000000000001Z" fill="#999"/>
<path d="M515.6,105.9 L526.1,103.3 L527.9,120.8 L526.1,123.5 L516.5,127 L516.5,141.1 L514.7,141.1 L513.8,132.3 L508.5,132.3 L508.5,127 L504.2,123.5 L505,120 L512,112Z" fill="#fff" stroke="#999" stroke-width="1.5819999999999999" stroke-linejoin="round" stroke-linecap="round" />
<path d="M511.2,113.8 L517,112 L520.5,116.5 L524,111 L524.5,120.5 L518.5,122.5 L512,121.5" fill="none" stroke="#999" stroke-width="1.05" stroke-linejoin="round" stroke-linecap="round"/>
<path d="M516,116 L515,120 L518,121" fill="none" stroke="#999" stroke-width="0.9450000000000001" stroke-linejoin="round" stroke-linecap="round"/>
<path d="M508.5,127 L516.5,127" fill="none" stroke="#999" stroke-width="1.05" stroke-linejoin="round" stroke-linecap="round"/>
<text transform="translate(467.30,140.60) scale(1.043,0.991)" font-size="24" fill="#999">21</text>
<path d="M490.6,131.9 L501.2,131.9" stroke="#999" stroke-width="1.9" fill="none"/>
<path d="M507.2,131.9 L501.2,135.3 L501.2,128.5Z" fill="#999"/>
<path d="M544.3,116.3 L556.25,114.9 L574.5,128.3 L576.65,132.5 L576,138.1 L578.8,155 L579.5,169.1 L578.1,176.1 L573.8,178.9 L572.4,176.1 L569.6,171.9 L566.8,166.3 L557,157.8 L554.1,156.4 L545.7,153.6 L542.9,150.8 L540.1,148 L531.6,148 L528.8,145.9 L532.3,141.7 L534.4,141 L532.3,134.6 L535.1,129.7 L541.5,119.1Z" fill="#fff" stroke="#999" stroke-width="1.6949999999999998" stroke-linejoin="round" stroke-linecap="round" />
<path d="M534.4,133.9 L545,118.4 L555.5,117 L572.4,129.7 L574.5,134.6" fill="none" stroke="#999" stroke-width="1.05" stroke-linejoin="round" stroke-linecap="round"/>
<path d="M537.3,136 L545.7,121.3 L551.3,119.85" fill="none" stroke="#999" stroke-width="1.05" stroke-linejoin="round" stroke-linecap="round"/>
<path d="M538.7,137.4 L548.5,140.25 L555.5,137.4 L557,131.1" fill="none" stroke="#999" stroke-width="1.05" stroke-linejoin="round" stroke-linecap="round"/>
<path d="M552,119.85 L552,127.6 L542.9,129.7 L538.7,137.4" fill="none" stroke="#999" stroke-width="1.05" stroke-linejoin="round" stroke-linecap="round"/>
<path d="M556.25,122 L556.25,142.4" fill="none" stroke="#999" stroke-width="1.05" stroke-linejoin="round" stroke-linecap="round"/>
<path d="M559.8,123.4 L560.5,145.2" fill="none" stroke="#999" stroke-width="1.05" stroke-linejoin="round" stroke-linecap="round"/>
<path d="M564,125.5 L564,146.6" fill="none" stroke="#999" stroke-width="1.05" stroke-linejoin="round" stroke-linecap="round"/>
<path d="M568.2,128.3 L568.2,149.4" fill="none" stroke="#999" stroke-width="1.05" stroke-linejoin="round" stroke-linecap="round"/>
<path d="M572.4,131.1 L571,152" fill="none" stroke="#999" stroke-width="1.05" stroke-linejoin="round" stroke-linecap="round"/>
<path d="M553.4,145.2 L558.4,141 L560.5,146.6 L565.4,142.4 L567.5,148 L572,145" fill="none" stroke="#999" stroke-width="1.05" stroke-linejoin="round" stroke-linecap="round"/>
<path d="M555,150 L559,147 L561,152 L566,148 L568,154" fill="none" stroke="#999" stroke-width="0.9450000000000001" stroke-linejoin="round" stroke-linecap="round"/>
<path d="M542.9,150.8 L544.3,143.8 L554.1,149.4 L557,157.8" fill="none" stroke="#999" stroke-width="1.05" stroke-linejoin="round" stroke-linecap="round"/>
<path d="M576,138.1 L569.6,156.4 L568.2,169.1" fill="none" stroke="#999" stroke-width="1.05" stroke-linejoin="round" stroke-linecap="round"/>
<path d="M573.8,142.4 L569,160 L567,166" fill="none" stroke="#999" stroke-width="0.9450000000000001" stroke-linejoin="round" stroke-linecap="round"/>
<path d="M534.4,141 L542,143 L544.3,143.8" fill="none" stroke="#999" stroke-width="0.9450000000000001" stroke-linejoin="round" stroke-linecap="round"/>
<text transform="translate(596.19,144.06) scale(1.036,0.965)" font-size="24" fill="#999">19</text>
<path d="M598,135.4 L584.5,135.4" stroke="#999" stroke-width="1.9" fill="none"/>
<path d="M578.5,135.4 L584.5,132.0 L584.5,138.8Z" fill="#999"/>
<path d="M537.5,163 L540.2,162.1 L563,178 L563.9,182.4 L561.3,185.9 L557.8,185.9 L541.1,175.3 L537.5,171.8Z" fill="#fff" stroke="#999" stroke-width="1.6949999999999998" stroke-linejoin="round" stroke-linecap="round" />
<path d="M543.7,170.9 L558.6,180.6" fill="none" stroke="#999" stroke-width="1.05" stroke-linejoin="round" stroke-linecap="round"/>
<path d="M541.9,167.4 L560.4,178" fill="none" stroke="#999" stroke-width="1.05" stroke-linejoin="round" stroke-linecap="round"/>
<path d="M540.2,162.1 L540.5,172.5" fill="none" stroke="#999" stroke-width="1.05" stroke-linejoin="round" stroke-linecap="round"/>
<path d="M558.5,185.5 L559,181 L563.5,178.5" fill="none" stroke="#999" stroke-width="1.05" stroke-linejoin="round" stroke-linecap="round"/>
<text transform="translate(497.21,181.46) scale(1.033,0.976)" font-size="24" fill="#999">20</text>
<path d="M523.8,173.1 L532.8,173.1" stroke="#999" stroke-width="1.9" fill="none"/>
<path d="M538.8,173.1 L532.8,176.5 L532.8,169.7Z" fill="#999"/>
<path d="M602.2,158.6 L605.6,158 L605.2,181 L597.4,190.8 L593.5,191.8 L593,183 L589.2,182 L589.5,174.2 L596.4,172.25 L596.4,164.4 L598.3,163.5Z" fill="#fff" stroke="#999" stroke-width="1.5819999999999999" stroke-linejoin="round" stroke-linecap="round" />
<text transform="translate(584.21,231.06) scale(1.033,0.965)" font-size="24" fill="#999">23</text>
<path d="M594.1,209.8 L594.1,198.8" stroke="#999" stroke-width="1.9" fill="none"/>
<path d="M594.1,192.8 L597.5,198.8 L590.7,198.8Z" fill="#999"/>
<path d="M493,243.9 Q492.5,235 494.1,227.7 Q496,219 500.2,211.4 Q504.5,203.5 510.3,197.2 Q516,191.5 522.5,188.1 Q528.5,185.5 534.7,186 Q542,188.5 548.9,193.2 Q554.5,197.5 559.1,202.3 Q562,205.5 563.1,209.4 Q563.5,212.5 562.1,215.5 Q556,225 550.9,235.8 Q547,244 544.8,252.1 Q542.8,259 541.8,266.3 L540.8,273.4 Q540,278 538.8,280.5 Q537.5,282.5 535.7,282.5 L531.6,278.5 L512.3,266.3 Q510,264 510.3,261.2 L512.3,253.1 L510.3,243.9 L498.1,243.9 Z" fill="#fff" stroke="#999" stroke-width="1.6949999999999998" stroke-linejoin="round" stroke-linecap="round" />
<path d="M496.1,241.9 Q495,228 500,215.5 Q506,202 512.5,195 Q519,189.5 524.5,187.5 Q530,185.8 535,188 Q546,192.5 556,202.5 Q561,207.5 562,211" fill="none" stroke="#999" stroke-width="1.1550000000000002" stroke-linejoin="round" stroke-linecap="round" />
<path d="M562.1,213.5 Q555,221 548.9,229.7 Q542,238 538.8,246 Q535,253 533.7,260.2 Q532.5,267 532.7,272.4 Q534,276.5 536.7,278.5" fill="none" stroke="#999" stroke-width="1.26" stroke-linejoin="round" stroke-linecap="round" />
<path d="M561,217 Q554,226 549,236 Q544,246 541,256 Q539,264 539,272" fill="none" stroke="#999" stroke-width="1.05" stroke-linejoin="round" stroke-linecap="round" />
<path d="M511.3,262.2 Q520,270 536.7,276.4" fill="none" stroke="#999" stroke-width="1.05" stroke-linejoin="round" stroke-linecap="round" />
<path d="M516.4,215.5 L514.4,250" fill="none" stroke="#999" stroke-width="1.05" stroke-linejoin="round" stroke-linecap="round"/>
<path d="M520,221 L517,245" fill="none" stroke="#999" stroke-width="0.9450000000000001" stroke-linejoin="round" stroke-linecap="round"/>
<path d="M528.6,194.2 L532.7,196.2 L537.7,202.3 L546.9,205.3 L555,208.4 L555,211.4 L550.9,213.5 L548.9,221.6 L544.8,219.6 L544.8,213.5 L538.8,216.5 L535.7,209.4 L525.5,213.5 L523.5,203.3 L530.6,201.3Z" fill="none" stroke="#999" stroke-width="1.1550000000000002" stroke-linejoin="round" stroke-linecap="round" />
<path d="M536.5,221.5 L541.5,224 L540.5,228.5 L535.5,226Z" fill="none" stroke="#999" stroke-width="1.05" stroke-linejoin="round" stroke-linecap="round" />
<path d="M498.5,238 L502.5,235.5 L505.2,239.5 L501,242Z" fill="none" stroke="#999" stroke-width="1.05" stroke-linejoin="round" stroke-linecap="round" />
<text transform="translate(526.58,321.90) scale(1.040,0.988)" font-size="24" fill="#999">17</text>
<path d="M536.25,300.4 L536.25,288.8" stroke="#999" stroke-width="1.9" fill="none"/>
<path d="M536.25,282.8 L539.65,288.8 L532.85,288.8Z" fill="#999"/>
<path d="M111.15,280.2 Q110.5,273 112,269.6 Q114,265.5 117.3,262.6 Q122,257 127.9,252.1 Q133,248 138.4,245.9 Q145,244 152.5,244.2 Q159,245 164.8,246.8 Q171,249.5 177.1,253 Q181,255 185.6,256.7 L207.5,259.8 L243.4,285.6 Q244.5,288.5 244.2,291.9 L243.4,298.1 Q241,302.5 237.2,305.2 L221.6,296.6 L223.1,306.7 L201.25,312.2 L185,320.6 Q180,322.5 175.3,323.3 Q169,324.3 163,324.2 Q157,322 152.5,318.9 Q146,314.5 140.2,311.8 Q131,306.5 122.6,301.3 Q116,296 112.9,290.7 Q111,285 111.15,280.2 Z" fill="#fff" stroke="#999" stroke-width="1.6949999999999998" stroke-linejoin="round" stroke-linecap="round" />
<path d="M122.6,257.3 Q130,251 138.4,248.5 Q144,247 150.7,246.8 Q158,248 164.8,250.3 Q171,252.5 177.1,253.5" fill="none" stroke="#999" stroke-width="1.05" stroke-linejoin="round" stroke-linecap="round" />
<path d="M129.6,258.2 Q134,254 140.2,252.1 Q147,250.5 154.2,250.3 Q160,250.8 166.5,252.1 Q172,253.5 177.1,254.7 L180.6,261.7" fill="none" stroke="#999" stroke-width="1.05" stroke-linejoin="round" stroke-linecap="round" />
<path d="M115.5,266.1 L126.1,260.9 L157.7,261.7 L191.9,263 L201.25,265.3 L226.25,284.1 L235.6,286.4" fill="none" stroke="#999" stroke-width="1.05" stroke-linejoin="round" stroke-linecap="round"/>
<path d="M117.3,270.5 L127.9,267 L157.7,267 L185,267 L200,268 L221.6,284.1" fill="none" stroke="#999" stroke-width="1.05" stroke-linejoin="round" stroke-linecap="round"/>
<path d="M113.8,276.7 L129.6,271.4 L157.7,271.4 L185,273.2 L204.4,273.9 L216.9,283.3" fill="none" stroke="#999" stroke-width="1.05" stroke-linejoin="round" stroke-linecap="round"/>
<path d="M207.5,259.8 L235.6,284.8" fill="none" stroke="#999" stroke-width="1.05" stroke-linejoin="round" stroke-linecap="round"/>
<path d="M176.25,252.8 L179.4,261.4" fill="none" stroke="#999" stroke-width="0.9450000000000001" stroke-linejoin="round" stroke-linecap="round"/>
<path d="M185.6,256.7 L190.3,262.5" fill="none" stroke="#999" stroke-width="0.9450000000000001" stroke-linejoin="round" stroke-linecap="round"/>
<path d="M127.9,252.1 L123,258 L126.1,260.9" fill="none" stroke="#999" stroke-width="0.9450000000000001" stroke-linejoin="round" stroke-linecap="round"/>
<path d="M117.3,262.6 L117.3,270.5 L113.8,276.7" fill="none" stroke="#999" stroke-width="0.9450000000000001" stroke-linejoin="round" stroke-linecap="round"/>
<path d="M114.7,282 L122.6,289 L133.1,296 L143.7,301.3 L156,305.7 L163,306.6 L185,303 L198.1,295 L203.6,288.75" fill="none" stroke="#999" stroke-width="1.1550000000000002" stroke-linejoin="round" stroke-linecap="round"/>
<path d="M170,286.4 L235.6,286.4" fill="none" stroke="#999" stroke-width="1.05" stroke-linejoin="round" stroke-linecap="round"/>
<path d="M221.6,295 L243.4,288.75" fill="none" stroke="#999" stroke-width="1.05" stroke-linejoin="round" stroke-linecap="round"/>
<path d="M119.1,285.5 L120,296" fill="none" stroke="#999" stroke-width="0.9450000000000001" stroke-linejoin="round" stroke-linecap="round"/>
<path d="M142.8,301.3 L143.7,315.4" fill="none" stroke="#999" stroke-width="1.05" stroke-linejoin="round" stroke-linecap="round"/>
<path d="M153.4,305.7 L154.2,318.9" fill="none" stroke="#999" stroke-width="1.05" stroke-linejoin="round" stroke-linecap="round"/>
<path d="M163,306.6 L163,324.2" fill="none" stroke="#999" stroke-width="1.05" stroke-linejoin="round" stroke-linecap="round"/>
<path d="M143.7,300.4 L152.5,283.7 L161.3,280.2 L185,278.4 L202,278 L213,284" fill="none" stroke="#999" stroke-width="1.05" stroke-linejoin="round" stroke-linecap="round"/>
<path d="M149,302.2 L157.7,289 L164.8,283.7 L185,282.8 L200,283" fill="none" stroke="#999" stroke-width="1.05" stroke-linejoin="round" stroke-linecap="round"/>
<path d="M156,304.8 L164.8,294.3 L185,289 L203.6,288.75" fill="none" stroke="#999" stroke-width="0.9450000000000001" stroke-linejoin="round" stroke-linecap="round"/>
<path d="M166.5,304 L175.3,296 L187.2,291.1 L203.6,288.75" fill="none" stroke="#999" stroke-width="0.9450000000000001" stroke-linejoin="round" stroke-linecap="round"/>
<path d="M198.1,295 L198.1,313.75" fill="none" stroke="#999" stroke-width="1.05" stroke-linejoin="round" stroke-linecap="round"/>
<path d="M202.8,287.2 L201.25,310.6" fill="none" stroke="#999" stroke-width="1.05" stroke-linejoin="round" stroke-linecap="round"/>
<path d="M213.75,287.2 L213,306.7" fill="none" stroke="#999" stroke-width="1.05" stroke-linejoin="round" stroke-linecap="round"/>
<path d="M213.75,287.2 L223.1,306" fill="none" stroke="#999" stroke-width="1.05" stroke-linejoin="round" stroke-linecap="round"/>
<path d="M203.6,301.25 L213,306.7" fill="none" stroke="#999" stroke-width="0.9450000000000001" stroke-linejoin="round" stroke-linecap="round"/>
<text transform="translate(68.80,289.56) scale(1.041,0.974)" font-size="24" fill="#999">25</text>
<path d="M93.7,281.1 L104.8,281.1" stroke="#999" stroke-width="1.9" fill="none"/>
<path d="M110.8,281.1 L104.8,284.5 L104.8,277.70000000000005Z" fill="#999"/>
<path d="M218.5,316.4 L219.7,315.9 L223.2,319.1 L233.2,317 L233.2,313.2 L236.1,314.1 L236.7,318.8 L244.9,325.5 L244.9,335.2 L233.2,337.55 L218.5,327.6Z" fill="#fff" stroke="#999" stroke-width="1.6949999999999998" stroke-linejoin="round" stroke-linecap="round" />
<path d="M223.2,319.1 L223.8,330.5" fill="none" stroke="#999" stroke-width="1.1550000000000002" stroke-linejoin="round" stroke-linecap="round"/>
<path d="M223.8,323.2 L234.3,329.3 L244.3,326.1" fill="none" stroke="#999" stroke-width="1.1550000000000002" stroke-linejoin="round" stroke-linecap="round"/>
<path d="M234.3,329.3 L234.3,332.9" fill="none" stroke="#999" stroke-width="1.05" stroke-linejoin="round" stroke-linecap="round"/>
<path d="M224.1,330.5 L227.3,328.5 L234.3,331.7" fill="none" stroke="#999" stroke-width="1.05" stroke-linejoin="round" stroke-linecap="round"/>
<path d="M236.7,330.8 L244.3,328.2" fill="none" stroke="#999" stroke-width="1.05" stroke-linejoin="round" stroke-linecap="round"/>
<path d="M233.2,317 L236.7,318.8" fill="none" stroke="#999" stroke-width="1.05" stroke-linejoin="round" stroke-linecap="round"/>
<text transform="translate(263.46,338.51) scale(1.072,0.962)" font-size="24" fill="#999">29</text>
<path d="M261,329.8 L251.0,329.8" stroke="#999" stroke-width="1.9" fill="none"/>
<path d="M245,329.8 L251.0,326.40000000000003 L251.0,333.2Z" fill="#999"/>
<path d="M114.3,372.7 L114.3,362.4 Q115.5,355 117.7,350.4 Q121,345 125.5,340.9 Q131,336.5 137.5,334 Q144,332 151.3,331.4 Q159,331.5 166.8,333.2 Q172.5,334.5 178.8,336.6 L198.4,344.8 L212.5,345.6 L247.7,373.75 L248.4,383.1 L240.6,382.3 L235.9,385.5 L234.4,387.8 L218,387.8 L216.4,390.2 L214.8,392.5 L212.5,395.6 L187.5,394.8 L178.1,401.9 Q177.5,407 172.8,408.9 Q168,411 163.3,410.6 Q160,408 156.5,405.4 L135.8,391.7 L120.3,379.6 Z" fill="#fff" stroke="#999" stroke-width="1.6949999999999998" stroke-linejoin="round" stroke-linecap="round" />
<path d="M116,354.7 L123.8,352.1 L132.4,348.6 L178.8,350.4 L203.1,351.1 L212.5,345.6" fill="none" stroke="#999" stroke-width="1.05" stroke-linejoin="round" stroke-linecap="round"/>
<path d="M116,354.7 L118.6,357.2 L127.2,368.4 L144.4,379.6 L158.2,384.8 L168.5,386.5 L175,381.6 L201.6,372.2 L215.6,371.4 L220.3,376.1 L247.7,373.75" fill="none" stroke="#999" stroke-width="1.1550000000000002" stroke-linejoin="round" stroke-linecap="round"/>
<path d="M115.2,364.1 L132.4,374.5 L156.5,388.2 L166.8,391.7 L173.7,387.4 L203.1,376.1 L220.3,376.1" fill="none" stroke="#999" stroke-width="1.05" stroke-linejoin="round" stroke-linecap="round"/>
<path d="M125.5,351.2 L135.8,359 L149.6,365 L159.9,368.4 L175,367.5 L210.9,367.5" fill="none" stroke="#999" stroke-width="1.05" stroke-linejoin="round" stroke-linecap="round"/>
<path d="M137.5,348.6 L146.1,358.1 L175,358.9 L203.9,359.7" fill="none" stroke="#999" stroke-width="1.05" stroke-linejoin="round" stroke-linecap="round"/>
<path d="M144.4,365.8 L150.4,364.1" fill="none" stroke="#999" stroke-width="0.9450000000000001" stroke-linejoin="round" stroke-linecap="round"/>
<path d="M130.6,348.6 L147.8,336.6 L166.8,334.9 L178.8,338.3 L180.5,349.5" fill="none" stroke="#999" stroke-width="1.05" stroke-linejoin="round" stroke-linecap="round"/>
<path d="M195.3,344.8 L196.9,351.1" fill="none" stroke="#999" stroke-width="0.9450000000000001" stroke-linejoin="round" stroke-linecap="round"/>
<path d="M212.5,345.6 L207.8,355" fill="none" stroke="#999" stroke-width="0.9450000000000001" stroke-linejoin="round" stroke-linecap="round"/>
<path d="M203.1,351.1 L231.25,373" fill="none" stroke="#999" stroke-width="1.05" stroke-linejoin="round" stroke-linecap="round"/>
<path d="M231.25,371.4 L247.7,373.75" fill="none" stroke="#999" stroke-width="0.9450000000000001" stroke-linejoin="round" stroke-linecap="round"/>
<path d="M132.4,374.5 L132.4,379.6" fill="none" stroke="#999" stroke-width="0.9450000000000001" stroke-linejoin="round" stroke-linecap="round"/>
<path d="M157.3,389.1 L154.7,405.4" fill="none" stroke="#999" stroke-width="1.05" stroke-linejoin="round" stroke-linecap="round"/>
<path d="M165.1,391.7 L165.1,410.6" fill="none" stroke="#999" stroke-width="1.05" stroke-linejoin="round" stroke-linecap="round"/>
<path d="M175.4,389.1 L173.7,407.1" fill="none" stroke="#999" stroke-width="1.05" stroke-linejoin="round" stroke-linecap="round"/>
<path d="M175,389.4 L200,378.4 L220,377" fill="none" stroke="#999" stroke-width="0.9450000000000001" stroke-linejoin="round" stroke-linecap="round"/>
<path d="M220.3,376.1 L223.4,384.7" fill="none" stroke="#999" stroke-width="0.9450000000000001" stroke-linejoin="round" stroke-linecap="round"/>
<path d="M240.6,382.3 L247.7,374.5" fill="none" stroke="#999" stroke-width="0.9450000000000001" stroke-linejoin="round" stroke-linecap="round"/>
<path d="M200,389.4 L200.8,394" fill="none" stroke="#999" stroke-width="0.9450000000000001" stroke-linejoin="round" stroke-linecap="round"/>
<path d="M203.9,390 L210.9,388.6 L208.6,393.3 L204.7,392.5" fill="none" stroke="#999" stroke-width="0.9450000000000001" stroke-linejoin="round" stroke-linecap="round"/>
<text transform="translate(72.26,369.65) scale(1.069,0.982)" font-size="24" fill="#999">26</text>
<path d="M98.5,360.9 L108.4,360.9" stroke="#999" stroke-width="1.9" fill="none"/>
<path d="M114.4,360.9 L108.4,364.29999999999995 L108.4,357.5Z" fill="#999"/>
<path d="M98.1,385.6 Q91,385 91.1,391.9 Q92,396 95,398.9 L131.7,424.7 L135.6,423.1 L140.3,416.9 L138.75,413 Z" fill="#fff" stroke="#999" stroke-width="1.6949999999999998" stroke-linejoin="round" stroke-linecap="round" />
<path d="M135.6,423.1 Q131,421 132,417 Q134,414 138.75,413" fill="none" stroke="#999" stroke-width="1.26" stroke-linejoin="round" stroke-linecap="round" />
<text transform="translate(74.59,440.90) scale(1.047,0.991)" font-size="24" fill="#999">27</text>
<path d="M97.8,421.9 L104.40891805851425,413.43031860462247" stroke="#999" stroke-width="1.9" fill="none"/>
<path d="M108.1,408.7 L107.089431934467,415.52193170479774 L101.72840418256149,411.3387055044472Z" fill="#999"/>
<path d="M193.2,414.5 L240.5,406.6 L242.4,408.4 L240,413.6 L236.7,417.8 L234.9,417.3 L232,416.4 L229.2,421.1 L226.4,419.7 L201.1,428.1 L198.8,428.1 L199.7,418.7 L197.4,415.9 L194.6,420.6 L192.7,419.2Z" fill="#fff" stroke="#999" stroke-width="1.6949999999999998" stroke-linejoin="round" stroke-linecap="round" />
<path d="M200.2,414 L240.5,408.9" fill="none" stroke="#999" stroke-width="1.05" stroke-linejoin="round" stroke-linecap="round"/>
<path d="M202.5,416.4 L202,426.7" fill="none" stroke="#999" stroke-width="1.05" stroke-linejoin="round" stroke-linecap="round"/>
<text transform="translate(259.28,416.26) scale(1.053,0.959)" font-size="24" fill="#999">28</text>
<path d="M258.9,407.9 L248.6,407.9" stroke="#999" stroke-width="1.9" fill="none"/>
<path d="M242.6,407.9 L248.6,404.5 L248.6,411.29999999999995Z" fill="#999"/>
<path d="M274.1,365 L303.6,387.5" fill="none" stroke="#999" stroke-width="1.1550000000000002" stroke-linejoin="round" stroke-linecap="round"/>
<path d="M276.5,363.2 L306.5,386.2" fill="none" stroke="#999" stroke-width="1.1550000000000002" stroke-linejoin="round" stroke-linecap="round"/>
<path d="M289.5,376.5 L390.8,378" fill="none" stroke="#999" stroke-width="1.1550000000000002" stroke-linejoin="round" stroke-linecap="round"/>
<path d="M291,379.3 L381.6,380.3 L391,379.3" fill="none" stroke="#999" stroke-width="1.1550000000000002" stroke-linejoin="round" stroke-linecap="round"/>
<path d="M321,371.5 L336.4,384.5" fill="none" stroke="#999" stroke-width="1.1550000000000002" stroke-linejoin="round" stroke-linecap="round"/>
<path d="M323.5,370 L339.5,383.5" fill="none" stroke="#999" stroke-width="1.1550000000000002" stroke-linejoin="round" stroke-linecap="round"/>
<path d="M391.3,376.8 L396.5,377.3 Q397.8,379.5 396.9,381.8 L391.3,382.3 Q390.5,379.5 391.3,376.8 Z" fill="#fff" stroke="#999" stroke-width="1.26" stroke-linejoin="round" stroke-linecap="round" />
<path d="M264.05,360.3 L266.25,365.3 Q271.25,367.8 276.25,365.3 L278.45,360.3 Z" fill="#fff" stroke="#999" stroke-width="1.26" stroke-linejoin="round" stroke-linecap="round" />
<ellipse cx="271.25" cy="359.8" rx="7.5" ry="3.6" fill="#fff" stroke="#999" stroke-width="1.3" transform="rotate(0 271.25 359.8)"/>
<ellipse cx="271.25" cy="359.6" rx="4" ry="1.7" fill="#fff" stroke="#999" stroke-width="1.0" transform="rotate(0 271.25 359.6)"/>
<path d="M310.5,367.8 L312.7,372.8 Q317.7,375.3 322.7,372.8 L324.9,367.8 Z" fill="#fff" stroke="#999" stroke-width="1.26" stroke-linejoin="round" stroke-linecap="round" />
<ellipse cx="317.7" cy="367.3" rx="7.5" ry="3.6" fill="#fff" stroke="#999" stroke-width="1.3" transform="rotate(0 317.7 367.3)"/>
<ellipse cx="317.7" cy="367.1" rx="4" ry="1.7" fill="#fff" stroke="#999" stroke-width="1.0" transform="rotate(0 317.7 367.1)"/>
<path d="M302.8,389.2 L305,394.2 Q310,396.7 315,394.2 L317.2,389.2 Z" fill="#fff" stroke="#999" stroke-width="1.26" stroke-linejoin="round" stroke-linecap="round" />
<ellipse cx="310" cy="388.7" rx="7.5" ry="3.6" fill="#fff" stroke="#999" stroke-width="1.3" transform="rotate(0 310 388.7)"/>
<ellipse cx="310" cy="388.5" rx="4" ry="1.7" fill="#fff" stroke="#999" stroke-width="1.0" transform="rotate(0 310 388.5)"/>
<path d="M334.40000000000003,387.1 L336.6,392.1 Q341.6,394.6 346.6,392.1 L348.8,387.1 Z" fill="#fff" stroke="#999" stroke-width="1.26" stroke-linejoin="round" stroke-linecap="round" />
<ellipse cx="341.6" cy="386.6" rx="7.5" ry="3.6" fill="#fff" stroke="#999" stroke-width="1.3" transform="rotate(0 341.6 386.6)"/>
<ellipse cx="341.6" cy="386.40000000000003" rx="4" ry="1.7" fill="#fff" stroke="#999" stroke-width="1.0" transform="rotate(0 341.6 386.40000000000003)"/>
<text transform="translate(307.55,342.95) scale(1.051,1.006)" font-size="24" fill="#999">30</text>
<path d="M317.8,346.9 L317.8,358.0" stroke="#999" stroke-width="1.9" fill="none"/>
<path d="M317.8,364 L314.40000000000003,358.0 L321.2,358.0Z" fill="#999"/>
<rect x="16" y="457" width="608" height="45" fill="#126409"/>
<text x="318.3" y="477.4" font-size="20" text-anchor="middle" fill="#000" textLength="359" lengthAdjust="spacingAndGlyphs">Part or sub-assembly is #4 in diagram</text>
<text x="316.8" y="497.3" font-size="20" text-anchor="middle" fill="#000" textLength="414" lengthAdjust="spacingAndGlyphs">Diagram may not be specific to your vehicle</text>
</svg></body></html>
